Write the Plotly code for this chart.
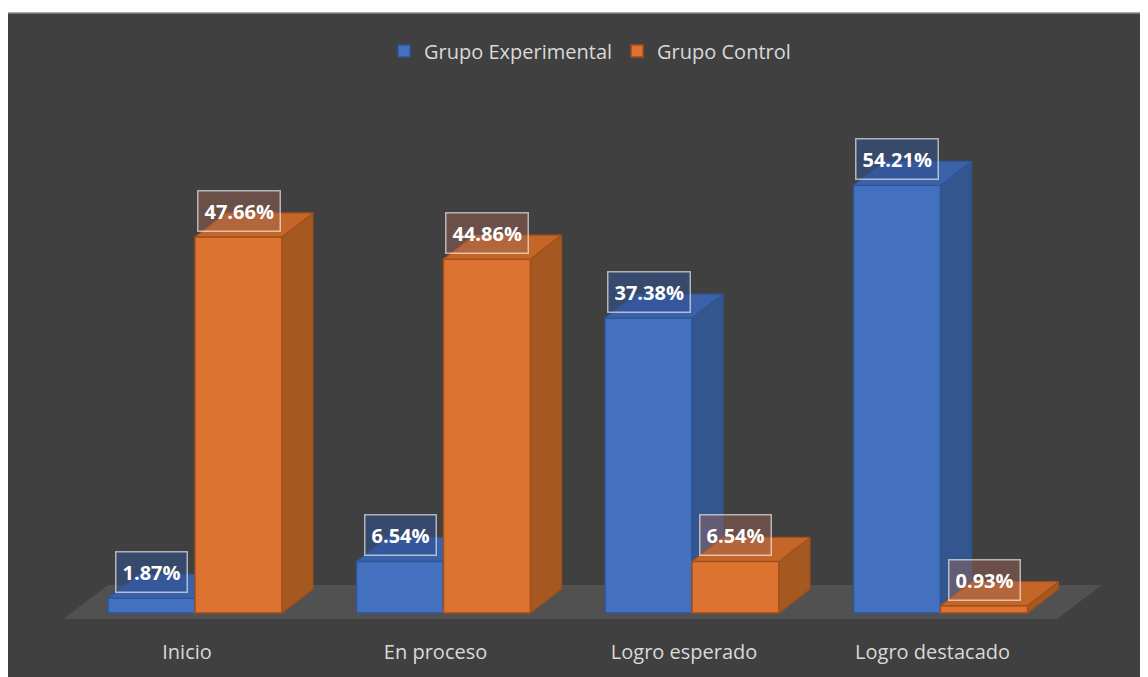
import plotly.graph_objects as go

# ---------------- data ----------------
categories = ["Inicio", "En proceso", "Logro esperado", "Logro destacado"]
experimental = [1.87, 6.54, 37.38, 54.21]
control = [47.66, 44.86, 6.54, 0.93]
series_names = ["Grupo Experimental", "Grupo Control"]

# ---------------- geometry / style ----------------
W, H = 1148, 677
MB = 47
plot_h = H - MB
base_px = 605
px_per_pct = 7.89
y_min = -(plot_h - base_px) / px_per_pct
y_max = base_px / px_per_pct
cat_px0, cat_step = 187.0, 248.5
x_min = -cat_px0 / cat_step
x_max = (W - cat_px0) / cat_step
bar_w = 87 / cat_step
dx = 31 / cat_step
dy = 24 / px_per_pct
label_dy = 26 / px_per_pct

styles = [
    dict(front="#4470c0", side="#34568f", top="#3b61a8", edge="#2f5597",
         lab_bg="rgba(47,82,143,0.55)"),
    dict(front="#dc7331", side="#a5581f", top="#c46628", edge="#a14f1c",
         lab_bg="rgba(160,100,85,0.45)"),
]
offsets = [-bar_w, 0.0]
axes = [("x", "y"), ("x2", "y2")]
FONT = "Open Sans"

fig = go.Figure()
annotations = []
idx = list(range(len(categories)))

for s, (name, vals) in enumerate(zip(series_names, [experimental, control])):
    st = styles[s]
    xa, ya = axes[s]
    xs = [i + offsets[s] for i in idx]
    # front faces
    fig.add_trace(go.Bar(
        x=[i + offsets[s] + bar_w / 2 for i in idx], y=vals, width=bar_w,
        name=name, marker=dict(color=st["front"], line=dict(color=st["edge"], width=1.5)),
        xaxis=xa, yaxis=ya, hoverinfo="skip"))
    # side and top faces
    sx, sy = [], []
    tx, ty = [], []
    for x0, v in zip(xs, vals):
        x1 = x0 + bar_w
        sx += [x1, x1, x1 + dx, x1 + dx, x1, None]
        sy += [0, v, v + dy, dy, 0, None]
        tx += [x0, x1, x1 + dx, x0 + dx, x0, None]
        ty += [v, v, v + dy, v + dy, v, None]
    fig.add_trace(go.Scatter(x=sx, y=sy, fill="toself", fillcolor=st["side"], mode="lines",
                             line=dict(color=st["edge"], width=1.2), showlegend=False,
                             xaxis=xa, yaxis=ya, hoverinfo="skip"))
    fig.add_trace(go.Scatter(x=tx, y=ty, fill="toself", fillcolor=st["top"], mode="lines",
                             line=dict(color=st["edge"], width=1.2), showlegend=False,
                             xaxis=xa, yaxis=ya, hoverinfo="skip"))
    for x0, v in zip(xs, vals):
        annotations.append(dict(
            x=x0 + bar_w / 2, y=v + label_dy, xref="x", yref="y", text=f"{v:.2f}%",
            showarrow=False, font=dict(family=FONT, size=20, color="white", weight="bold"),
            bgcolor=st["lab_bg"], bordercolor="rgba(255,255,255,0.6)", borderwidth=1.5,
            borderpad=6, xanchor="center", yanchor="middle"))

# floor (from the axis frame)
f_front = -6 / px_per_pct
f_back = 28 / px_per_pct
f_dx = 45 / cat_step
fl_x0 = -132 / cat_step
fl_x1 = len(categories) - 1 + 0.5 - 0.031
floor_path = (f"M {fl_x0},{f_front} L {fl_x1},{f_front} L {fl_x1 + f_dx},{f_back} "
              f"L {fl_x0 + f_dx},{f_back} Z")

shapes = [
    dict(type="rect", xref="paper", yref="paper", x0=-0.001, x1=1.01,
         y0=1 - (H + 10) / plot_h, y1=1 - 5 / plot_h, fillcolor="#404040",
         line=dict(color="#8a8a8a", width=1.5), layer="below"),
    dict(type="path", xref="x", yref="y", path=floor_path, fillcolor="#515151",
         line=dict(width=0), layer="below"),
]

axis_common = dict(range=[x_min, x_max], showgrid=False, zeroline=False, showline=False,
                   fixedrange=True)
fig.update_layout(
    width=W, height=H,
    margin=dict(l=0, r=0, t=0, b=MB),
    paper_bgcolor="white", plot_bgcolor="rgba(0,0,0,0)",
    barmode="overlay",
    xaxis=dict(**axis_common, tickmode="array", tickvals=[i - 0.032 for i in idx],
               ticktext=categories, ticks="", tickfont=dict(family=FONT, size=20, color="#d9d9d9")),
    yaxis=dict(range=[y_min, y_max], visible=False, fixedrange=True),
    xaxis2=dict(**axis_common, overlaying="x", visible=False),
    yaxis2=dict(range=[y_min, y_max], overlaying="y", visible=False, fixedrange=True),
    legend=dict(orientation="h", x=0.507, y=1 - 43 / plot_h, xanchor="center", yanchor="middle",
                font=dict(family=FONT, size=20, color="#d9d9d9"), bgcolor="rgba(0,0,0,0)"),
    shapes=shapes,
    annotations=annotations,
)

fig.write_html("out.html")
